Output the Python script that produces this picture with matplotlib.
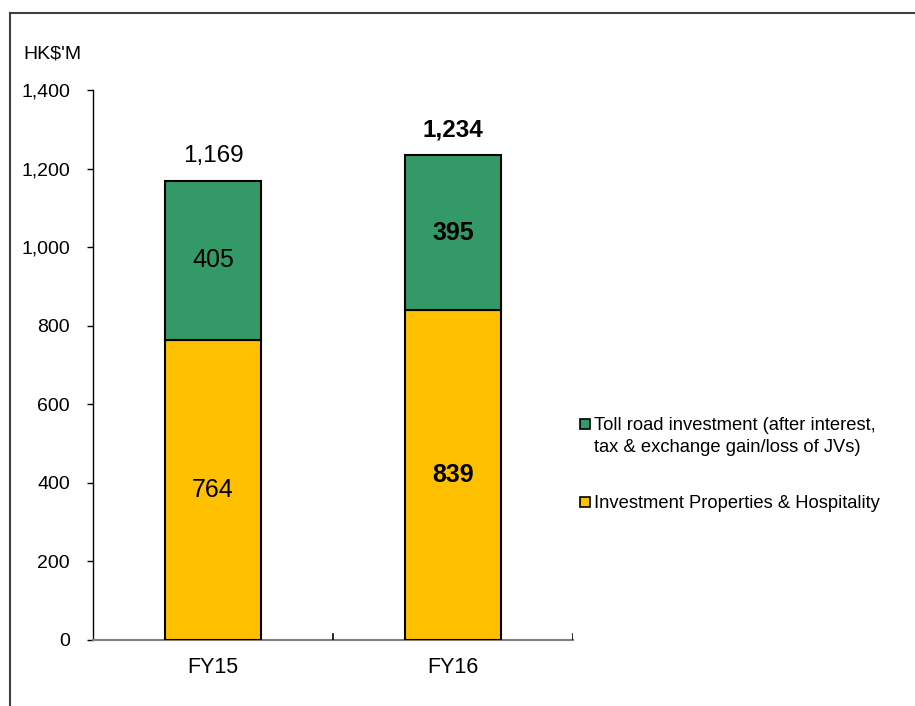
import matplotlib
matplotlib.use("Agg")
import matplotlib.pyplot as plt
from matplotlib.patches import Rectangle
from matplotlib.lines import Line2D

plt.rcParams['font.family'] = ['Liberation Sans', 'DejaVu Sans']

# Data
categories = ["FY15", "FY16"]
properties = [764, 839]
toll_road = [405, 395]
totals = [1169, 1234]
series_names = ["Toll road investment (after interest,\ntax & exchange gain/loss of JVs)",
                "Investment Properties & Hospitality"]
label_bold = [False, True]
yticks = [0, 200, 400, 600, 800, 1000, 1200, 1400]

YELLOW = "#FFC000"
GREEN = "#339966"

W, H = 915, 706
fig = plt.figure(figsize=(W / 100, H / 100), dpi=100)
ax = fig.add_axes([93 / W, 1 - 640 / H, 480 / W, 550 / H])

x = list(range(len(categories)))
ax.bar(x, properties, width=0.40, color=YELLOW, edgecolor="black", linewidth=1.5, zorder=3)
ax.bar(x, toll_road, bottom=properties, width=0.40, color=GREEN, edgecolor="black",
       linewidth=1.5, zorder=3)

for i in x:
    w = "bold" if label_bold[i] else "normal"
    ax.text(i, properties[i] / 2, f"{properties[i]:,}", ha="center", va="center",
            fontsize=18, fontweight=w, color="black", zorder=4)
    ax.text(i, properties[i] + toll_road[i] / 2, f"{toll_road[i]:,}", ha="center",
            va="center", fontsize=18, fontweight=w, color="black", zorder=4)
    ax.annotate(f"{totals[i]:,}", (i, totals[i]), xytext=(0, 18), textcoords="offset points",
                ha="center", va="center", fontsize=17.5, fontweight=w, color="black")

ax.set_xlim(-0.5, len(categories) - 0.5)
ax.set_ylim(0, 1400)
ax.set_yticks(yticks)
ax.set_yticklabels([f"{v:,}" for v in yticks], fontsize=14)
ax.set_xticks(x)
ax.set_xticklabels(categories, fontsize=15.5)
ax.tick_params(axis="x", length=0, pad=12)
ax.tick_params(axis="y", direction="out", length=4.5, width=1, pad=12, color="black")

# category separator ticks on the x axis
for b in [0.5, 1.5]:
    ax.add_line(Line2D([b, b], [0, 16], color="black", linewidth=1.2, zorder=4))

for s in ["top", "right"]:
    ax.spines[s].set_visible(False)
ax.spines["left"].set_color("black")
ax.spines["left"].set_linewidth(1)
ax.spines["bottom"].set_color("#808080")
ax.spines["bottom"].set_linewidth(1.5)

fig.text(23 / W, 1 - 54 / H, "HK$'M", fontsize=14, ha="left", va="center")

# Legend
leg_items = [(series_names[0], GREEN, 424), (series_names[1], YELLOW, 502)]
for name, col, yc in leg_items:
    fig.patches.append(Rectangle((580 / W, 1 - (yc + 5) / H), 10 / W, 10 / H,
                                 transform=fig.transFigure, facecolor=col,
                                 edgecolor="black", linewidth=1.2))
    fig.text(594 / W, 1 - (yc - 7) / H, name, fontsize=13.25, ha="left", va="top",
             linespacing=1.4)

# Frame lines
fig.add_artist(Line2D([9.5 / W, 1], [1 - 13 / H, 1 - 13 / H], transform=fig.transFigure,
                      color="#404040", linewidth=1.5))
fig.add_artist(Line2D([9.5 / W, 9.5 / W], [0, 1 - 13 / H], transform=fig.transFigure,
                      color="#404040", linewidth=1.5))

fig.savefig("out.png", dpi=100)
